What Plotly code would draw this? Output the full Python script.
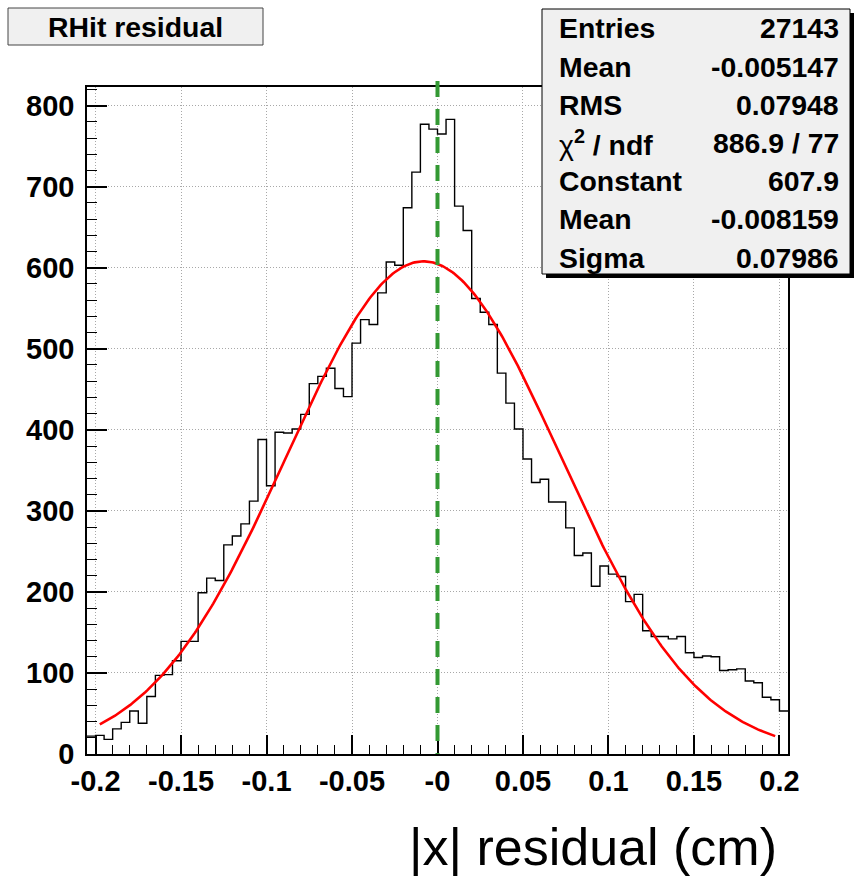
import numpy as np
import plotly.graph_objects as go

# ---------------- data ----------------
bin_low = -0.205
bin_width = 0.005
counts = [22, 23, 18, 31, 39, 53, 38, 71, 97, 98,
          115, 139, 139, 199, 217, 214, 258, 269, 284, 312,
          388, 331, 397, 396, 401, 419, 457, 466, 476, 451,
          441, 507, 536, 530, 569, 607, 603, 674, 718, 777,
          771, 765, 783, 676, 646, 562, 545, 530, 470, 433,
          401, 364, 335, 339, 311, 311, 279, 245, 248, 207,
          232, 222, 219, 188, 197, 152, 145, 145, 142, 145,
          125, 119, 121, 120, 103, 104, 105, 90, 88, 70,
          67, 53]

fit_constant = 607.9
fit_mean = -0.008159
fit_sigma = 0.07986
fit_range = [-0.1975, 0.1975]

ref_line_x = 0.0

x_tickvals = [-0.2, -0.15, -0.1, -0.05, 0.0, 0.05, 0.1, 0.15, 0.2]
x_ticktext = ["-0.2", "-0.15", "-0.1", "-0.05", "-0", "0.05", "0.1", "0.15", "0.2"]
y_tickvals = [0, 100, 200, 300, 400, 500, 600, 700, 800]

title_text = "RHit residual"
x_title = "|x| residual (cm)"
stat_labels = ["Entries", "Mean", "RMS",
               "<span style='font-weight:normal'>χ</span><sup>2</sup> / ndf",
               "Constant", "Mean", "Sigma"]
stat_values = ["27143", "-0.005147", "0.07948", "886.9 / 77", "607.9", "-0.008159", "0.07986"]

# ---------------- geometry ----------------
W, H = 855, 879
ML, MR, MT, MB = 87, 67, 87, 125
PW = W - ML - MR
PH = H - MT - MB


def px_x(p):
    return (p - ML) / PW


def px_y(p):
    return (H - MB - p) / PH


FONT = "Liberation Sans, Arial, Helvetica, sans-serif"
TICK_SIZE = 29
BOX_SIZE = 28.4

edges = bin_low + bin_width * np.arange(len(counts) + 1)
hist_y = counts + [counts[-1]]

fit_x = np.linspace(fit_range[0], fit_range[1], 400)
fit_y = fit_constant * np.exp(-0.5 * ((fit_x - fit_mean) / fit_sigma) ** 2)

fig = go.Figure()
fig.add_trace(go.Scatter(x=edges, y=hist_y, mode="lines",
                         line=dict(color="black", width=1.4, shape="hv"),
                         hoverinfo="skip", showlegend=False))
fig.add_trace(go.Scatter(x=fit_x, y=fit_y, mode="lines",
                         line=dict(color="#ff0000", width=2.6),
                         hoverinfo="skip", showlegend=False))

x_lo = bin_low
x_hi = bin_low + bin_width * len(counts)

fig.update_layout(
    width=W, height=H,
    margin=dict(l=ML, r=MR, t=MT, b=MB, pad=0),
    paper_bgcolor="white", plot_bgcolor="white",
    showlegend=False,
    font=dict(family=FONT, color="black"),
    xaxis=dict(range=[x_lo, x_hi], tickvals=x_tickvals, ticktext=x_ticktext,
               ticks="inside", ticklen=19, tickwidth=1.5, tickcolor="black",
               showline=True, linecolor="black", linewidth=1.5, mirror=True,
               showgrid=True, gridcolor="#a8a8a8", gridwidth=1, griddash="1px,2px",
               zeroline=False,
               tickfont=dict(family=FONT, size=TICK_SIZE, weight="bold", color="black"),
               minor=dict(dtick=0.01, tick0=0, ticks="inside", ticklen=9,
                          tickwidth=1, tickcolor="black", showgrid=False)),
    yaxis=dict(range=[0, 823], tickvals=y_tickvals,
               ticks="inside", ticklen=20, tickwidth=1.5, tickcolor="black",
               showline=True, linecolor="black", linewidth=1.5, mirror=True,
               showgrid=True, gridcolor="#a8a8a8", gridwidth=1, griddash="1px,2px",
               zeroline=False, ticklabelstandoff=5,
               tickfont=dict(family=FONT, size=TICK_SIZE, weight="bold", color="black"),
               minor=dict(dtick=20, tick0=0, ticks="inside", ticklen=10,
                          tickwidth=1, tickcolor="black", showgrid=False)),
)

shapes = []
# green dashed reference line
shapes.append(dict(type="line", xref="x", yref="paper",
                   x0=ref_line_x, x1=ref_line_x, y0=px_y(81), y1=0,
                   line=dict(color="#339933", width=4, dash="16px,12px"),
                   layer="above"))
# title box
shapes.append(dict(type="rect", xref="paper", yref="paper",
                   x0=px_x(8), x1=px_x(263), y0=px_y(45), y1=px_y(8),
                   fillcolor="#f0f0f0", line=dict(color="#444444", width=1),
                   layer="above"))
# stats box shadow
shapes.append(dict(type="rect", xref="paper", yref="paper",
                   x0=px_x(546), x1=px_x(854), y0=px_y(278), y1=px_y(13),
                   fillcolor="black", line=dict(width=0), layer="above"))
# stats box
shapes.append(dict(type="rect", xref="paper", yref="paper",
                   x0=px_x(542), x1=px_x(850), y0=px_y(274), y1=px_y(9),
                   fillcolor="#f0f0f0", line=dict(color="black", width=1),
                   layer="above"))
fig.update_layout(shapes=shapes)

ann = []
ann.append(dict(text="<b>" + title_text + "</b>", xref="paper", yref="paper",
                x=px_x(135.5), y=px_y(27), xanchor="center", yanchor="middle",
                showarrow=False, font=dict(family=FONT, size=BOX_SIZE, color="black")))
row_y = [28.5, 66.5, 104.5, 142.5, 181, 219.5, 258]
for lab, val, yy in zip(stat_labels, stat_values, row_y):
    ann.append(dict(text="<b>" + lab + "</b>", xref="paper", yref="paper",
                    x=px_x(557), y=px_y(yy), xanchor="left", yanchor="middle",
                    showarrow=False, font=dict(family=FONT, size=BOX_SIZE, color="black")))
    ann.append(dict(text="<b>" + val + "</b>", xref="paper", yref="paper",
                    x=px_x(841), y=px_y(yy), xanchor="right", yanchor="middle",
                    showarrow=False, font=dict(family=FONT, size=BOX_SIZE, color="black")))
ann.append(dict(text=x_title, xref="paper", yref="paper",
                x=px_x(779), y=px_y(878), xanchor="right", yanchor="bottom",
                showarrow=False, font=dict(family=FONT, size=52, color="black")))
fig.update_layout(annotations=ann)

fig.write_html("out.html", config={"displayModeBar": False},
               post_script="document.body.style.margin='0px';document.body.style.overflow='hidden';")
